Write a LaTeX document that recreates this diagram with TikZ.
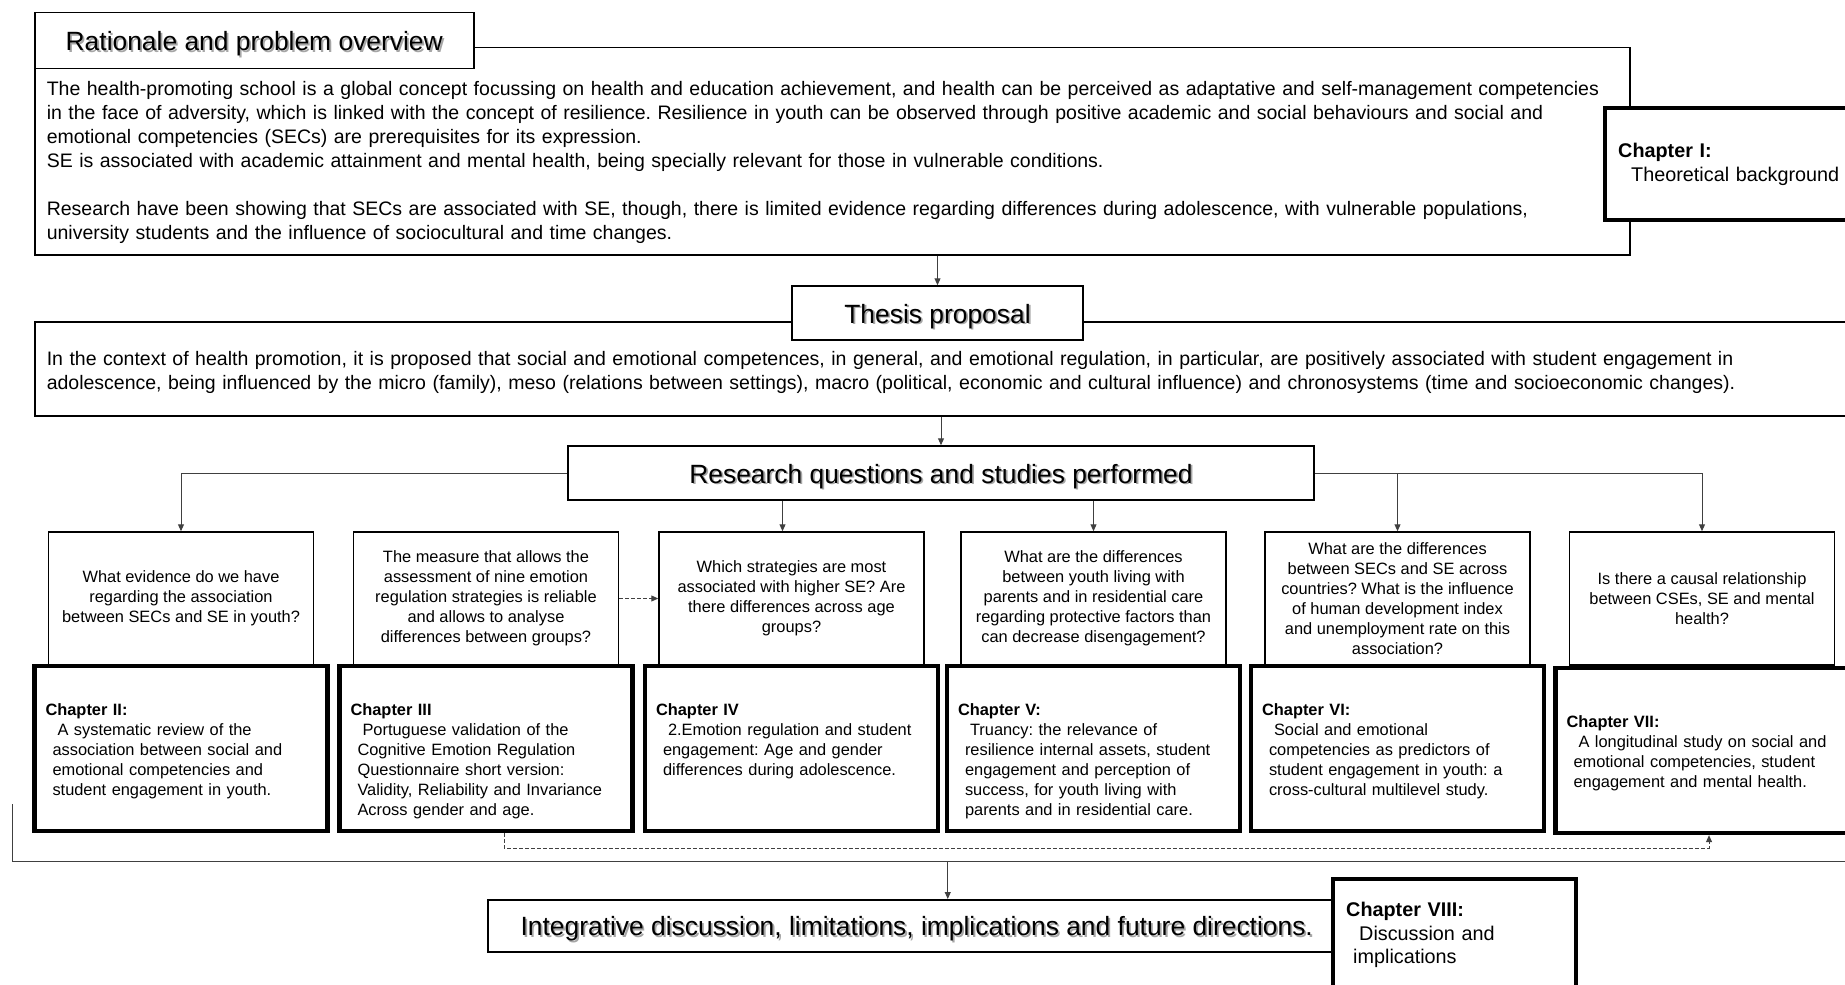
\documentclass[tikz,border=0pt]{standalone}
\usepackage{fontspec}
\setmainfont{Liberation Sans}
\usetikzlibrary{arrows.meta,positioning}
\newcommand{\shadowed}[1]{\makebox[0pt][l]{\hspace{0.9pt}\raisebox{-0.9pt}{\textcolor{black!35}{#1}}}#1}
\frenchspacing

\begin{document}
\begin{tikzpicture}[
  x=0.5pt, y=-0.5pt,
  head/.style={draw, fill=white, line width=0.75pt, inner sep=0pt,
    text height=10pt, text depth=0pt, font=\fontsize{13.2}{15}\selectfont},
  frame/.style={draw, line width=0.75pt, anchor=north west, align=left,
    inner xsep=6pt, inner ysep=0pt, font=\fontsize{9.75}{12}\selectfont},
  quest/.style={draw, fill=white, line width=0.75pt, minimum width=132.5pt,
    minimum height=66.5pt, inner sep=0pt, align=center,
    font=\fontsize{8.2}{10}\selectfont},
  chap/.style={draw, fill=white, line width=2.2pt, text width=135.5pt,
    inner xsep=5.5pt, inner ysep=0pt, text height=24.75pt, text depth=57.75pt,
    align=left, font=\fontsize{8.2}{10}\selectfont},
  side/.style={draw, fill=white, line width=2.2pt, anchor=north west,
    align=left, inner xsep=6.5pt, font=\fontsize{9.9}{11.8}\selectfont},
  link/.style={draw=black!75, line width=0.5pt},
  dashlink/.style={link, dash pattern=on 2pt off 1pt},
  >={Triangle[length=3.5pt,width=3pt]}
]
\useasboundingbox (0,0) rectangle (1845,984);

% Rationale
\node[frame, text width=785.5pt, text height=24pt, text depth=79.5pt] (ratBox) at (34,47)
  {The health-promoting school is a global concept focussing on health and education achievement, and health can be perceived as adaptative and self-management competencies\\
   in the face of adversity, which is linked with the concept of resilience. Resilience in youth can be observed through positive academic and social behaviours and social and\\
   emotional competencies (SECs) are prerequisites for its expression.\\
   SE is associated with academic attainment and mental health, being specially relevant for those in vulnerable conditions.\\[12pt]
   Research have been showing that SECs are associated with SE, though, there is limited evidence regarding differences during adolescence, with vulnerable populations,\\
   university students and the influence of sociocultural and time changes.};
\node[head, anchor=north west, minimum width=219.5pt, minimum height=28pt] (ratHead) at (34,12)
  {\shadowed{Rationale and problem overview}};

\node[side, minimum height=56pt, text width=116pt] (ch1) at (1603,106)
  {\textbf{Chapter I:}\\\hspace*{6.5pt}Theoretical background};

% Thesis proposal
\node[frame, text width=900pt, text height=22pt, text depth=25pt] (thesBox) at (34,321)
  {In the context of health promotion, it is proposed that social and emotional competences, in general, and emotional regulation, in particular, are positively associated with student engagement in\\
   adolescence, being influenced by the micro (family), meso (relations between settings), macro (political, economic and cultural influence) and chronosystems (time and socioeconomic changes).};
\node[head, minimum width=145.5pt, minimum height=27pt] (thesHead) at (937.5,313)
  {\shadowed{Thesis proposal}};

\draw[link,->] (ratBox.south -| thesHead.north) -- (thesHead.north);

% Research questions
\node[head, minimum width=373pt, minimum height=27pt] (resHead) at (941,473)
  {\shadowed{Research questions and studies performed}};
\draw[link,->] (thesBox.south -| resHead.north) -- (resHead.north);

\node[quest] (q1) at (181,598.5)
  {What evidence do we have\\regarding the association\\between SECs and SE in youth?};
\node[quest] (q2) at (486,598.5)
  {The measure that allows the\\assessment of nine emotion\\regulation strategies is reliable\\and allows to analyse\\differences between groups?};
\node[quest] (q3) at (791.5,598.5)
  {Which strategies are most\\associated with higher SE? Are\\there differences across age\\groups?};
\node[quest] (q4) at (1093.5,598.5)
  {What are the differences\\between youth living with\\parents and in residential care\\regarding protective factors than\\can decrease disengagement?};
\node[quest] (q5) at (1397.5,598.5)
  {What are the differences\\between SECs and SE across\\countries? What is the influence\\of human development index\\and unemployment rate on this\\association?};
\node[quest] (q6) at (1702,598.5)
  {Is there a causal relationship\\between CSEs, SE and mental\\health?};

\coordinate (q3in) at ([xshift=-4.5pt]q3.north);
\draw[link,->] (resHead.west) -| (q1.north);
\draw[link,->] (q3in |- resHead.south) -- (q3in);
\draw[link,->] (resHead.south -| q4.north) -- (q4.north);
\draw[link,->] (resHead.east) -| (q6.north);
\draw[link,->] (resHead.east -| q5.north) -- (q5.north);
\draw[dashlink,->] (q2.east) -- (q3.west);

% Chapters
\node[chap, below=-1pt of q1] (ch2)
  {\textbf{Chapter II:}\\
   \hspace*{6pt}A systematic review of the\\
   \hspace*{3.5pt}association between social and\\
   \hspace*{3.5pt}emotional competencies and\\
   \hspace*{3.5pt}student engagement in youth.};
\node[chap, below=-1pt of q2] (ch3)
  {\textbf{Chapter III}\\
   \hspace*{6pt}Portuguese validation of the\\
   \hspace*{3.5pt}Cognitive Emotion Regulation\\
   \hspace*{3.5pt}Questionnaire short version:\\
   \hspace*{3.5pt}Validity, Reliability and Invariance\\
   \hspace*{3.5pt}Across gender and age.};
\node[chap, below=-1pt of q3] (ch4)
  {\textbf{Chapter IV}\\
   \hspace*{6pt}2.Emotion regulation and student\\
   \hspace*{3.5pt}engagement: Age and gender\\
   \hspace*{3.5pt}differences during adolescence.};
\node[chap, below=-1pt of q4] (ch5)
  {\textbf{Chapter V:}\\
   \hspace*{6pt}Truancy: the relevance of\\
   \hspace*{3.5pt}resilience internal assets, student\\
   \hspace*{3.5pt}engagement and perception of\\
   \hspace*{3.5pt}success, for youth living with\\
   \hspace*{3.5pt}parents and in residential care.};
\node[chap, below=-1pt of q5] (ch6)
  {\textbf{Chapter VI:}\\
   \hspace*{6pt}Social and emotional\\
   \hspace*{3.5pt}competencies as predictors of\\
   \hspace*{3.5pt}student engagement in youth: a\\
   \hspace*{3.5pt}cross-cultural multilevel study.};
\node[chap, below=0pt of q6, text height=30pt, text depth=52.5pt] (ch7)
  {\textbf{Chapter VII:}\\
   \hspace*{6pt}A longitudinal study on social and\\
   \hspace*{3.5pt}emotional competencies, student\\
   \hspace*{3.5pt}engagement and mental health.};

\coordinate (loopA) at ([xshift=9pt]ch3.south);
\coordinate (loopB) at ([xshift=3.5pt]ch7.south);
\draw[dashlink,->] (loopA) -- ++(0,15) -| (loopB);

% Integrative discussion
\coordinate (baseL) at (12,804);
\coordinate (baseR) at (1845,861);
\draw[link] (baseL) |- (baseR);

\node[head, anchor=north west, minimum width=429pt, minimum height=26pt] (integ) at (487,899)
  {\shadowed{Integrative discussion, limitations, implications and future directions.}};
\coordinate (integIn) at ([xshift=15.5pt]integ.north);
\draw[link,->] (integIn |- baseR) -- (integIn);

\node[side, minimum height=56pt, text width=108.5pt] (ch8) at (1331,877)
  {\textbf{Chapter VIII:}\\\hspace*{6.5pt}Discussion and\\\hspace*{3.5pt}implications};
\end{tikzpicture}
\end{document}
